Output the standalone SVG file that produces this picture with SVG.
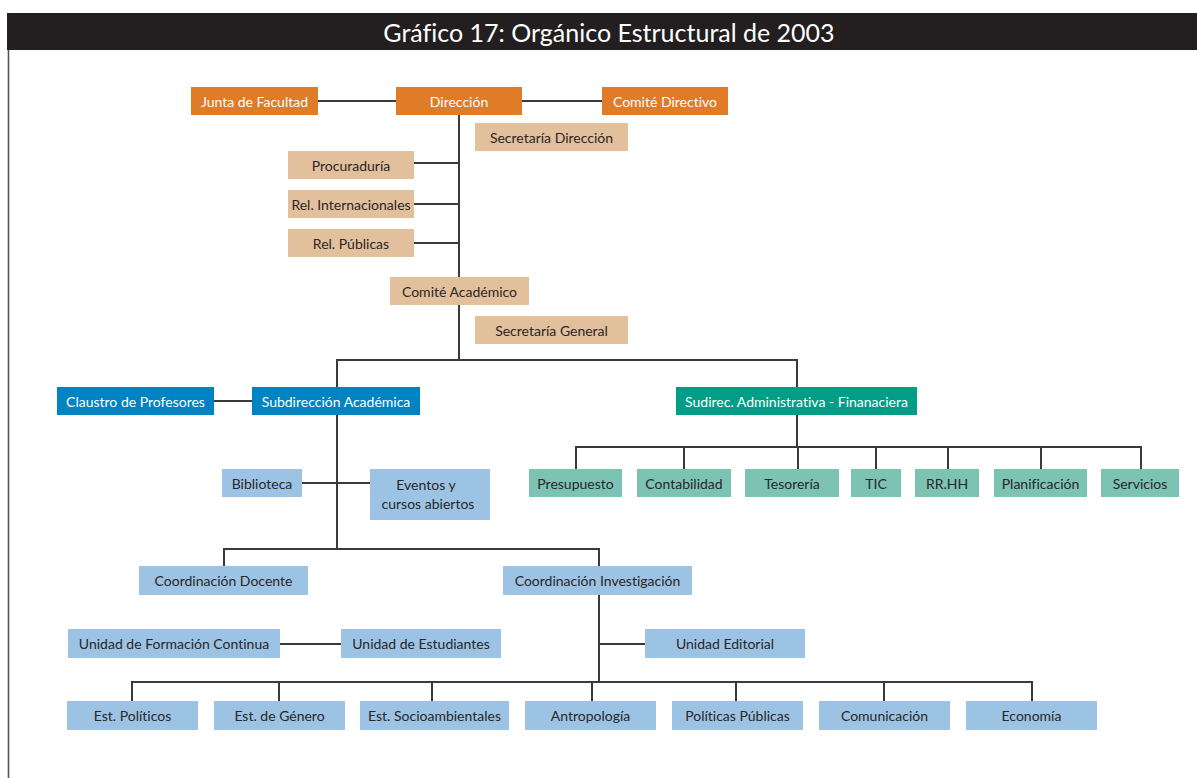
<svg xmlns="http://www.w3.org/2000/svg" width="1197" height="778" viewBox="0 0 1197 778">
<style>
text{font-family:Lato,"Open Sans","Liberation Sans",sans-serif;font-size:14px;text-anchor:middle;dominant-baseline:central;font-variant-ligatures:none;font-feature-settings:"liga" 0}
.dk{fill:#ffffff}
.lt{fill:#2a2627}
.or{fill:#E07B28}
.tan{fill:#E2C09B}
.bl{fill:#0083C3}
.tl{fill:#009E86}
.lteal{fill:#7DC3B4}
.lblue{fill:#9CC3E3}
.c{stroke:#3a3a3a;stroke-width:2;fill:none}
</style>
<rect x="0" y="0" width="1197" height="778" fill="#ffffff"/>
<rect x="7" y="13" width="1190" height="37" fill="#231F20"/>
<text x="609" y="32" style="font-size:25px" class="dk">Gráfico 17: Orgánico Estructural de 2003</text>
<line x1="8.5" y1="50" x2="8.5" y2="778" stroke="#555" stroke-width="1.6"/>
<g id="connectors" class="c">
<path d="M318 101H396M522 101H602"/>
<path d="M459 115V360"/>
<path d="M414 163H459M414 204H459M414 243H459"/>
<path d="M337 387V360H797V387"/>
<path d="M214 401H252"/>
<path d="M797 415V447M576 469V447H1141V469M684 447V469M798 447V469M876 447V469M948 447V469M1041 447V469"/>
<path d="M337 415V549M302 483H370"/>
<path d="M224 566V549H599V566"/>
<path d="M599 595V682M599 644H645"/>
<path d="M280 644H341"/>
<path d="M132 701V682H1032V701M279 682V701M432 682V701M592 682V701M736 682V701M884 682V701"/>
</g>
<g id="n-junta"><rect class="or" x="191" y="87" width="127" height="28"/><text class="dk" x="254.5" y="101">Junta de Facultad</text></g>
<g id="n-direccion"><rect class="or" x="396" y="87" width="126" height="28"/><text class="dk" x="459" y="101">Dirección</text></g>
<g id="n-comite-directivo"><rect class="or" x="602" y="87" width="126" height="28"/><text class="dk" x="665" y="101">Comité Directivo</text></g>
<g id="n-secretaria-direccion"><rect class="tan" x="475" y="123" width="153" height="28"/><text class="lt" x="551.5" y="137">Secretaría Dirección</text></g>
<g id="n-procuraduria"><rect class="tan" x="288" y="151" width="126" height="28"/><text class="lt" x="351" y="165">Procuraduría</text></g>
<g id="n-rel-int"><rect class="tan" x="288" y="190" width="126" height="28"/><text class="lt" x="351" y="204">Rel. Internacionales</text></g>
<g id="n-rel-pub"><rect class="tan" x="288" y="229" width="126" height="28"/><text class="lt" x="351" y="243">Rel. Públicas</text></g>
<g id="n-comite-academico"><rect class="tan" x="390" y="277" width="139" height="28"/><text class="lt" x="459.5" y="291">Comité Académico</text></g>
<g id="n-secretaria-general"><rect class="tan" x="475" y="316" width="153" height="28"/><text class="lt" x="551.5" y="330">Secretaría General</text></g>
<g id="n-claustro"><rect class="bl" x="57" y="387" width="157" height="28"/><text class="dk" x="135.5" y="401">Claustro de Profesores</text></g>
<g id="n-subdir-academica"><rect class="bl" x="252" y="387" width="168" height="28"/><text class="dk" x="336" y="401">Subdirección Académica</text></g>
<g id="n-sudirec-adm"><rect class="tl" x="676" y="387" width="241" height="28"/><text class="dk" x="796.5" y="401">Sudirec. Administrativa - Finanaciera</text></g>
<g id="n-presupuesto"><rect class="lteal" x="529" y="469" width="93" height="28"/><text class="lt" x="575.5" y="483">Presupuesto</text></g>
<g id="n-contabilidad"><rect class="lteal" x="637" y="469" width="94" height="28"/><text class="lt" x="684" y="483">Contabilidad</text></g>
<g id="n-tesoreria"><rect class="lteal" x="745" y="469" width="94" height="28"/><text class="lt" x="792" y="483">Tesorería</text></g>
<g id="n-tic"><rect class="lteal" x="851" y="469" width="50" height="28"/><text class="lt" x="876" y="483">TIC</text></g>
<g id="n-rrhh"><rect class="lteal" x="915" y="469" width="64" height="28"/><text class="lt" x="947" y="483">RR.HH</text></g>
<g id="n-planificacion"><rect class="lteal" x="994" y="469" width="93" height="28"/><text class="lt" x="1040.5" y="483">Planificación</text></g>
<g id="n-servicios"><rect class="lteal" x="1101" y="469" width="78" height="28"/><text class="lt" x="1140" y="483">Servicios</text></g>
<g id="n-biblioteca"><rect class="lblue" x="222" y="469" width="80" height="28"/><text class="lt" x="262" y="483">Biblioteca</text></g>
<g id="n-eventos"><rect class="lblue" x="370" y="469" width="120" height="51"/><text class="lt" x="426" y="484">Eventos y</text><text class="lt" x="428" y="503">cursos abiertos</text></g>
<g id="n-coord-docente"><rect class="lblue" x="139" y="566" width="169" height="29"/><text class="lt" x="223.5" y="580.5">Coordinación Docente</text></g>
<g id="n-coord-investigacion"><rect class="lblue" x="503" y="566" width="189" height="29"/><text class="lt" x="597.5" y="580.5">Coordinación Investigación</text></g>
<g id="n-ufc"><rect class="lblue" x="68" y="629" width="212" height="29"/><text class="lt" x="174" y="643.5">Unidad de Formación Continua</text></g>
<g id="n-ue"><rect class="lblue" x="341" y="629" width="160" height="29"/><text class="lt" x="421" y="643.5">Unidad de Estudiantes</text></g>
<g id="n-editorial"><rect class="lblue" x="645" y="629" width="160" height="29"/><text class="lt" x="725" y="643.5">Unidad Editorial</text></g>
<g id="n-est-politicos"><rect class="lblue" x="67" y="701" width="131" height="29"/><text class="lt" x="132.5" y="715.5">Est. Políticos</text></g>
<g id="n-est-genero"><rect class="lblue" x="214" y="701" width="131" height="29"/><text class="lt" x="279.5" y="715.5">Est. de Género</text></g>
<g id="n-est-socio"><rect class="lblue" x="360" y="701" width="149" height="29"/><text class="lt" x="434.5" y="715.5">Est. Socioambientales</text></g>
<g id="n-antropologia"><rect class="lblue" x="525" y="701" width="131" height="29"/><text class="lt" x="590.5" y="715.5">Antropología</text></g>
<g id="n-politicas"><rect class="lblue" x="672" y="701" width="131" height="29"/><text class="lt" x="737.5" y="715.5">Políticas Públicas</text></g>
<g id="n-comunicacion"><rect class="lblue" x="819" y="701" width="131" height="29"/><text class="lt" x="884.5" y="715.5">Comunicación</text></g>
<g id="n-economia"><rect class="lblue" x="966" y="701" width="131" height="29"/><text class="lt" x="1031.5" y="715.5">Economía</text></g>
</svg>
